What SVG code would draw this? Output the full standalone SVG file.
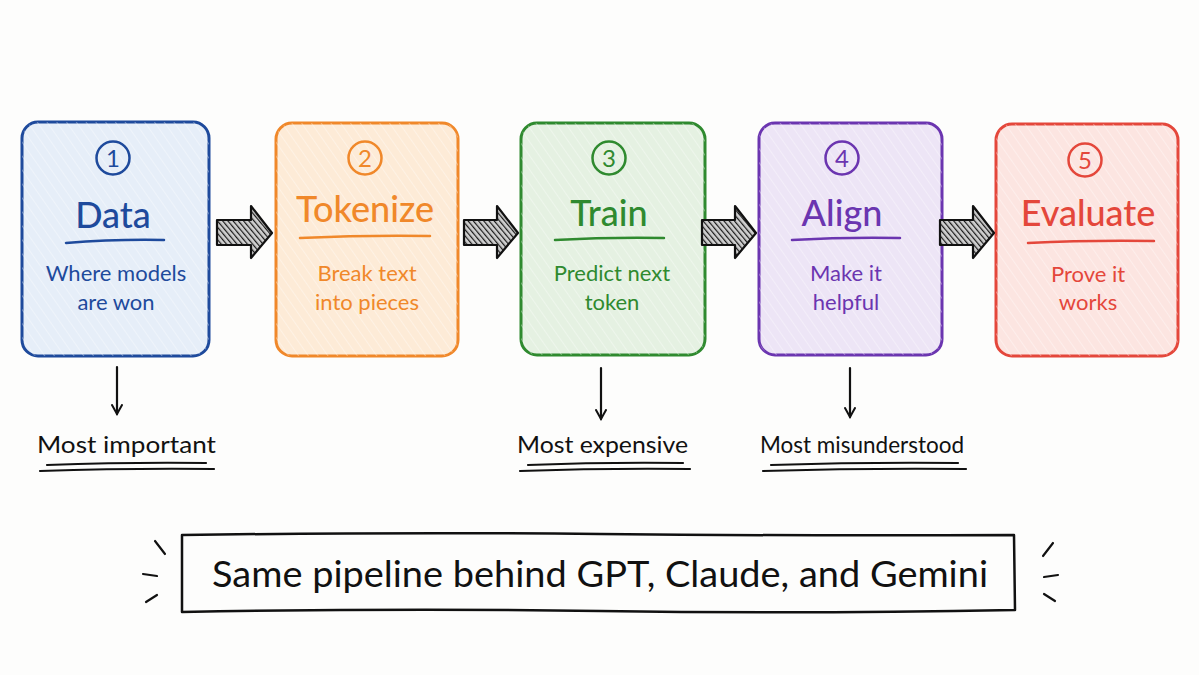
<svg xmlns="http://www.w3.org/2000/svg" width="1199" height="675" viewBox="0 0 1199 675">
<defs>
<pattern id="hatch" width="4" height="4" patternUnits="userSpaceOnUse" patternTransform="rotate(-40)">
<rect width="4" height="4" fill="#cfcfcf"/>
<line x1="0" y1="0" x2="0" y2="4" stroke="#1a1a1a" stroke-width="2.4"/>
</pattern>
<pattern id="wash" width="8" height="8" patternUnits="userSpaceOnUse" patternTransform="rotate(-35)">
<line x1="0" y1="0" x2="0" y2="8" stroke="#fff" stroke-opacity="0.35" stroke-width="2"/>
</pattern>
<marker id="ah" viewBox="0 0 12 12" refX="10" refY="6" markerWidth="12" markerHeight="12" markerUnits="userSpaceOnUse" orient="auto">
<path d="M1,1 L10,6 L1,11" fill="none" stroke="#111" stroke-width="2" stroke-linecap="round"/>
</marker>
</defs>
<style>
text{font-family:"Lato","Open Sans","Liberation Sans",sans-serif;text-anchor:middle}
.box{stroke-width:3}
.num{font-size:24px}
.title{font-size:36px;font-weight:500}
.sub{font-size:22px}
.lbl{font-size:24px;fill:#111;text-anchor:start}
.ink{fill:none;stroke:#111;stroke-width:2.2;stroke-linecap:round}
</style>
<rect width="1199" height="675" fill="#fdfdfc"/>

<g id="node1">
<rect class="box" x="22" y="122" width="187" height="234" rx="16" fill="#e6eef8" stroke="#1e4a9c"/>
<rect x="22" y="122" width="187" height="234" rx="16" fill="url(#wash)"/>
<circle cx="113" cy="158" r="16.5" fill="none" stroke="#1e4a9c" stroke-width="2.5"/>
<text class="num" x="113" y="167" fill="#1e4a9c">1</text>
<text class="title" x="113" y="228" fill="#1e4a9c">Data</text>
<path d="M66,243 Q116,239 164,240" fill="none" stroke="#1e4a9c" stroke-width="2.5" stroke-linecap="round"/>
<text class="sub" x="116" y="281" fill="#1e4a9c">Where models</text>
<text class="sub" x="116" y="310" fill="#1e4a9c">are won</text>
</g>

<g id="node2">
<rect class="box" x="276" y="123" width="182" height="233" rx="16" fill="#fdebd7" stroke="#f0882a"/>
<rect x="276" y="123" width="182" height="233" rx="16" fill="url(#wash)"/>
<circle cx="365" cy="158" r="16.5" fill="none" stroke="#f0882a" stroke-width="2.5"/>
<text class="num" x="365" y="167" fill="#f0882a">2</text>
<text class="title" x="365" y="222" fill="#f0882a">Tokenize</text>
<path d="M300,238 Q366,235 430,236" fill="none" stroke="#f0882a" stroke-width="2.5" stroke-linecap="round"/>
<text class="sub" x="367" y="281" fill="#f0882a">Break text</text>
<text class="sub" x="367" y="310" fill="#f0882a">into pieces</text>
</g>

<g id="node3">
<rect class="box" x="521" y="123" width="184" height="232" rx="16" fill="#e5f1e2" stroke="#2f8a2f"/>
<rect x="521" y="123" width="184" height="232" rx="16" fill="url(#wash)"/>
<circle cx="609" cy="158" r="16.5" fill="none" stroke="#2f8a2f" stroke-width="2.5"/>
<text class="num" x="609" y="167" fill="#2f8a2f">3</text>
<text class="title" x="609" y="226" fill="#2f8a2f">Train</text>
<path d="M555,240 Q610,237 664,238" fill="none" stroke="#2f8a2f" stroke-width="2.5" stroke-linecap="round"/>
<text class="sub" x="612" y="281" fill="#2f8a2f">Predict next</text>
<text class="sub" x="612" y="310" fill="#2f8a2f">token</text>
</g>

<g id="node4">
<rect class="box" x="759" y="123" width="183" height="232" rx="16" fill="#ede5f6" stroke="#6b35b0"/>
<rect x="759" y="123" width="183" height="232" rx="16" fill="url(#wash)"/>
<circle cx="842" cy="158" r="16.5" fill="none" stroke="#6b35b0" stroke-width="2.5"/>
<text class="num" x="842" y="167" fill="#6b35b0">4</text>
<text class="title" x="842" y="226" fill="#6b35b0">Align</text>
<path d="M792,240 Q845,237 900,238" fill="none" stroke="#6b35b0" stroke-width="2.5" stroke-linecap="round"/>
<text class="sub" x="846" y="281" fill="#6b35b0">Make it</text>
<text class="sub" x="846" y="310" fill="#6b35b0">helpful</text>
</g>

<g id="node5">
<rect class="box" x="996" y="124" width="182" height="232" rx="16" fill="#fce5e1" stroke="#e4473b"/>
<rect x="996" y="124" width="182" height="232" rx="16" fill="url(#wash)"/>
<circle cx="1085" cy="160" r="16.5" fill="none" stroke="#e4473b" stroke-width="2.5"/>
<text class="num" x="1085" y="169" fill="#e4473b">5</text>
<text class="title" x="1088" y="226" fill="#e4473b">Evaluate</text>
<path d="M1028,243 Q1088,240 1154,241" fill="none" stroke="#e4473b" stroke-width="2.5" stroke-linecap="round"/>
<text class="sub" x="1088" y="282" fill="#e4473b">Prove it</text>
<text class="sub" x="1088" y="310" fill="#e4473b">works</text>
</g>

<g id="connectors">
<path d="M217,220 L251,220 L251,206 L272,233 L251,258 L251,245 L217,245 Z" fill="url(#hatch)" stroke="#111" stroke-width="2.2" stroke-linejoin="round"/>
<path d="M464,220 L497,220 L497,206 L518,233 L497,258 L497,245 L464,245 Z" fill="url(#hatch)" stroke="#111" stroke-width="2.2" stroke-linejoin="round"/>
<path d="M702,220 L735,220 L735,206 L756,233 L735,258 L735,245 L702,245 Z" fill="url(#hatch)" stroke="#111" stroke-width="2.2" stroke-linejoin="round"/>
<path d="M940,220 L973,220 L973,206 L994,233 L973,258 L973,245 L940,245 Z" fill="url(#hatch)" stroke="#111" stroke-width="2.2" stroke-linejoin="round"/>
<line class="ink" x1="117" y1="367" x2="117" y2="414" marker-end="url(#ah)"/>
<line class="ink" x1="601" y1="368" x2="601" y2="419" marker-end="url(#ah)"/>
<line class="ink" x1="850" y1="368" x2="850" y2="417" marker-end="url(#ah)"/>
</g>

<g id="label1">
<text class="lbl" x="37" y="453" textLength="179" lengthAdjust="spacingAndGlyphs">Most important</text>
<path class="ink" d="M47,465 Q130,462 206,463"/>
<path class="ink" d="M40,471 Q130,468 214,469"/>
</g>
<g id="label2">
<text class="lbl" x="517" y="453" textLength="171" lengthAdjust="spacingAndGlyphs">Most expensive</text>
<path class="ink" d="M528,465 Q605,462 683,463"/>
<path class="ink" d="M520,471 Q605,468 690,469"/>
</g>
<g id="label3">
<text class="lbl" x="760" y="453" textLength="204" lengthAdjust="spacingAndGlyphs">Most misunderstood</text>
<path class="ink" d="M771,465 Q865,462 958,463"/>
<path class="ink" d="M763,471 Q865,468 966,469"/>
</g>

<g id="summary">
<path d="M155,541 L165,554 M143,574 L157,576 M146,602 L157,595" class="ink"/>
<path d="M1053,543 L1043,556 M1058,575 L1044,577 M1055,601 L1044,594" class="ink"/>
<path d="M182,535 Q400,532 600,534 T1014,535 L1015,610 Q800,614 600,611 T182,612 Z" fill="none" stroke="#111" stroke-width="2.5" stroke-linejoin="round"/>
<text x="600" y="587" font-size="37" fill="#111" textLength="776" lengthAdjust="spacingAndGlyphs">Same pipeline behind GPT, Claude, and Gemini</text>
</g>
</svg>
